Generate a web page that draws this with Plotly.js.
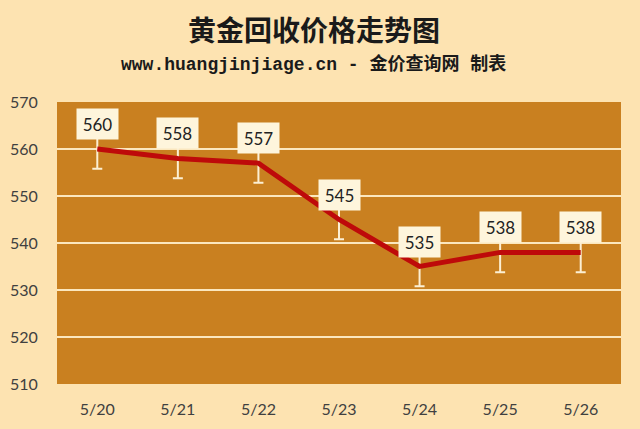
<!DOCTYPE html>
<html><head><meta charset="utf-8">
<script src="https://cdn.plot.ly/plotly-3.0.1.min.js"></script>
<style>html,body{margin:0;padding:0;background:#FDE3B1;}#chart{width:640px;height:429px;}</style>
</head><body><div id="chart"></div>
<script>
const dates = ['5/20','5/21','5/22','5/23','5/24','5/25','5/26'];
const prices = [560, 558, 557, 545, 535, 538, 538];
const yTicks = [510, 520, 530, 540, 550, 560, 570];
const titleText = '黄金回收价格走势图';
const subtitleText = 'www.huangjinjiage.cn - 金价查询网 制表';

const trace = {
  x: dates, y: prices, type: 'scatter', mode: 'lines',
  line: {color: '#BE0A0A', width: 5},
  error_y: {type: 'data', symmetric: false,
    array: prices.map(() => 3), arrayminus: prices.map(() => 4.2),
    color: '#FCEFD3', thickness: 2, width: 5},
  hoverinfo: 'skip'
};

const labels = dates.map((d, i) => ({
  x: d, y: prices[i], xref: 'x', yref: 'y', text: String(prices[i]),
  showarrow: false, yshift: 25, width: 31, height: 20, borderpad: 5,
  bgcolor: '#FEF5DC', font: {family: 'Lato, sans-serif', size: 17, color: '#222'}
}));

const layout = {
  width: 640, height: 429,
  paper_bgcolor: '#FDE3B1', plot_bgcolor: '#C98020',
  margin: {l: 57, r: 19, t: 102, b: 45},
  showlegend: false,
  xaxis: {type: 'category', range: [-0.5, 6.5], showgrid: false, zeroline: false,
    ticks: 'outside', ticklen: 11, tickcolor: 'rgba(0,0,0,0)',
    tickfont: {family: 'Lato, sans-serif', size: 16, color: '#404040'}, fixedrange: true},
  yaxis: {range: [510, 570], tickvals: yTicks, showgrid: true, gridcolor: '#FBE7BE', gridwidth: 2,
    zeroline: false, ticks: 'outside', ticklen: 15, tickcolor: 'rgba(0,0,0,0)',
    tickfont: {family: 'Lato, sans-serif', size: 16, color: '#404040'}, fixedrange: true},
  annotations: labels.concat([
    {text: '<b>' + titleText + '</b>', xref: 'paper', yref: 'paper', x: 0.455, y: 1, yshift: 73,
     xanchor: 'center', yanchor: 'middle', showarrow: false,
     font: {family: '"Noto Sans CJK SC", sans-serif', size: 28, color: '#1a1a1a'}},
    {text: '<b>' + subtitleText + '</b>', xref: 'paper', yref: 'paper', x: 0.455, y: 1, yshift: 38,
     xanchor: 'center', yanchor: 'middle', showarrow: false,
     font: {family: '"Liberation Mono", "Noto Sans CJK SC", monospace', size: 18, color: '#1a1a1a'}}
  ])
};

Plotly.newPlot('chart', [trace], layout, {displayModeBar: false, staticPlot: true});
</script></body></html>
